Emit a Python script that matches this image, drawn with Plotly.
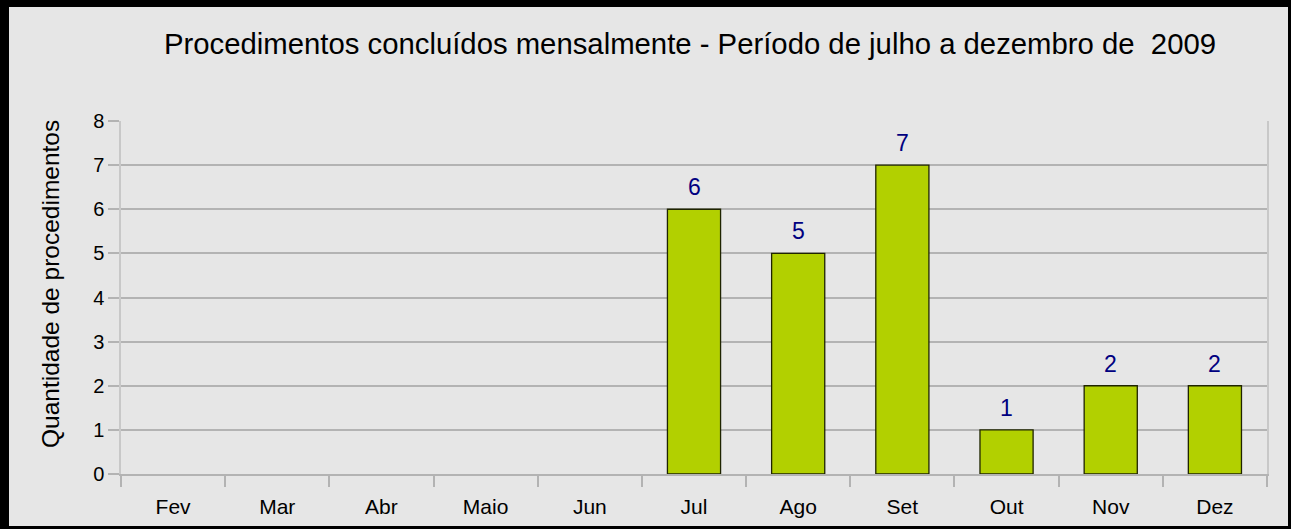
import plotly.graph_objects as go

months = ["Fev", "Mar", "Abr", "Maio", "Jun", "Jul", "Ago", "Set", "Out", "Nov", "Dez"]
values = [None, None, None, None, None, 6, 5, 7, 1, 2, 2]
y_ticks = [0, 1, 2, 3, 4, 5, 6, 7, 8]
title_text = "Procedimentos concluídos mensalmente - Período de julho a dezembro de  2009"
y_title = "Quantidade de procedimentos"

W, H = 1291, 529
L, R, T, B = 121, 1267, 121, 474
pw, ph = R - L, B - T

def px(x):
    return (x - L) / pw

def py(y):
    return (B - y) / ph

FONT = "Liberation Sans, Arial"

fig = go.Figure()
fig.add_trace(go.Bar(
    x=months, y=values,
    marker=dict(color="#b2d000", line=dict(color="#1f2400", width=1.3)),
))

annotations = []
for m, v in zip(months, values):
    if v is None:
        continue
    annotations.append(dict(x=m, y=v, xref="x", yref="y", text=str(v), showarrow=False,
                            yanchor="bottom", yshift=7,
                            font=dict(color="#000080", size=23, family=FONT)))
annotations.append(dict(x=px(50), y=py(284), xref="paper", yref="paper", text=y_title,
                        showarrow=False, textangle=-90, xanchor="center", yanchor="middle",
                        font=dict(size=24.5, color="black", family=FONT)))

shapes = []
for (x0, y0, x1, y1) in [(0, 0, 9, H), (0, 0, W, 7), (1288, 0, W, H), (0, 526, W, H)]:
    shapes.append(dict(type="rect", xref="paper", yref="paper",
                       x0=px(x0), x1=px(x1), y0=py(y1), y1=py(y0),
                       fillcolor="black", line=dict(width=0), layer="above"))

fig.update_layout(
    width=W, height=H,
    margin=dict(l=L, r=W - R, t=T, b=H - B, pad=0),
    paper_bgcolor="#e6e6e6", plot_bgcolor="#e6e6e6",
    bargap=0.49, showlegend=False,
    font=dict(family=FONT, color="black", size=19),
    title=dict(text=title_text, x=690 / W, xanchor="center", y=1 - 44 / H, yanchor="middle",
               font=dict(size=29.3, color="black")),
    shapes=shapes,
    annotations=annotations,
    xaxis=dict(type="category", tickson="boundaries", ticks="outside", ticklen=11,
               tickcolor="#b3b3b3", tickwidth=1.5, showgrid=False, showline=True,
               linecolor="#b3b3b3", linewidth=1.5, tickfont=dict(size=21),
               ticklabelstandoff=13, range=[-0.5, 10.5]),
    yaxis=dict(range=[0, 8], tickvals=y_ticks, ticks="outside", ticklen=11,
               tickcolor="#b3b3b3", tickwidth=1.5, showgrid=True, gridcolor="#b3b3b3",
               gridwidth=1.5, showline=True, mirror=True, linecolor="#c8c8c8",
               linewidth=1.5, zeroline=False, tickfont=dict(size=20)),
)

fig.write_html("out.html", config={"displayModeBar": False},
               post_script="document.body.style.margin='0';")
